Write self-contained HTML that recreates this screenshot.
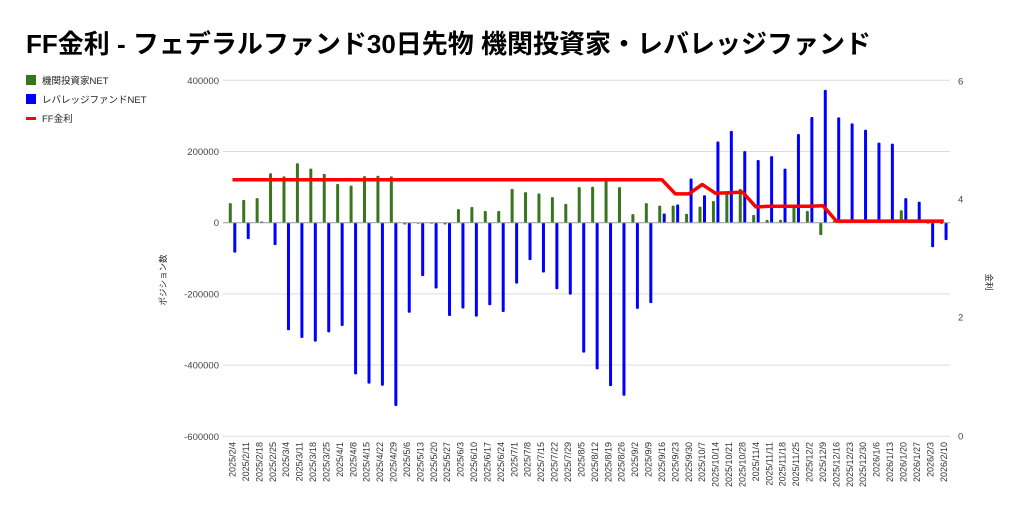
<!DOCTYPE html>
<html><head><meta charset="utf-8"><style>
body{margin:0;background:#fff;}
svg{display:block;font-family:"Liberation Sans","Noto Sans CJK JP",sans-serif;}
</style></head><body>
<svg id="c" width="1024" height="516" xmlns="http://www.w3.org/2000/svg">
<rect width="1024" height="516" fill="#fff"/>
<text x="26" y="53" font-size="26" font-weight="bold" fill="#000">FF金利 - フェデラルファンド30日先物 機関投資家・レバレッジファンド</text>
<rect x="26" y="75" width="10" height="10" fill="#38761d"/>
<text x="42" y="84" font-size="9.5" fill="#222">機関投資家NET</text>
<rect x="26" y="94" width="10" height="10" fill="#0000ff"/>
<text x="42" y="103" font-size="9.5" fill="#222">レバレッジファンドNET</text>
<rect x="26" y="117" width="10" height="3" fill="#ff0000"/>
<text x="42" y="122" font-size="9.5" fill="#222">FF金利</text>
<g id="grid" stroke="#dcdcdc" stroke-width="1"></g>
<g id="lab" font-size="9.5" fill="#444"></g>
<text transform="translate(166,280) rotate(-90)" font-size="8.5" fill="#222" text-anchor="middle">ポジション数</text>
<text transform="translate(986,282) rotate(90)" font-size="8.5" fill="#222" text-anchor="middle">金利</text>
<g id="bars"></g>
<line x1="223" y1="222.7" x2="950" y2="222.7" stroke="#999" stroke-width="1"/>
<polyline id="red" fill="none" stroke="#ff0000" stroke-width="3.5" stroke-linejoin="round"/>
<g id="xl" font-size="9" fill="#333"></g>
</svg>
<script>
var ns="http://www.w3.org/2000/svg";
function el(p,t,a,txt){var e=document.createElementNS(ns,t);for(var k in a)e.setAttribute(k,a[k]);if(txt!=null)e.textContent=txt;document.getElementById(p).appendChild(e);return e;}
var y0=222.7,k=71.2/200000;
var lv=[400000,200000,0,-200000,-400000,-600000];
lv.forEach(function(v){var y=y0-v*k;if(v!==0)el("grid","line",{x1:223,x2:950,y1:y,y2:y});el("lab","text",{x:219,y:y+3.5,"text-anchor":"end"},String(v));});
[[6,81],[4,199],[2,317],[0,436]].forEach(function(r){el("lab","text",{x:958,y:r[1]+3.5},String(r[0]));});
var g=[55,64,69,139,130,167,152,137,109,104,131,132,130,-5,-2,-1,-5,38,44,33,33,95,86,82,72,53,100,101,117,100,24,55,48,48,25,45,61,83,95,22,8,8,47,33,-35,5,4,4,3,3,35,2,-3,-4];
var b=[-84,-46,3,-63,-302,-324,-334,-308,-290,-426,-452,-458,-515,-253,-150,-185,-262,-241,-264,-232,-251,-171,-105,-140,-187,-202,-365,-412,-459,-486,-242,-226,26,51,124,77,228,258,201,176,187,152,249,297,373,296,279,261,225,222,69,59,-69,-49];
var r=[];for(var i=0;i<54;i++)r.push(i<=32?4.33:0);
var rr={33:4.09,34:4.09,35:4.25,36:4.10,37:4.11,38:4.12,39:3.87,40:3.88,41:3.88,42:3.88,43:3.88,44:3.89};
for(var i=45;i<54;i++)rr[i]=3.63;
for(var i in rr)r[i]=rr[i];
function bar(x,v,c){var y=y0-v*1000*k;var t=Math.min(y,y0),h=Math.max(Math.abs(y-y0),1);el("bars","rect",{x:x-1.5,y:t,width:3,height:h,fill:c,rx:1});}
var pts=[];
var d=new Date(2025,1,4);
for(var i=0;i<54;i++){
 var cx=232.5+i*13.42;
 bar(cx-2.2,g[i],"#38761d");bar(cx+2.3,b[i],"#0000ff");
 pts.push(cx.toFixed(1)+","+(436-r[i]*59.2).toFixed(1));
 var s=d.getFullYear()+"/"+(d.getMonth()+1)+"/"+d.getDate();
 el("xl","text",{transform:"translate("+(cx+3)+",442) rotate(-90)","text-anchor":"end"},s);
 d.setDate(d.getDate()+7);
}
document.getElementById("red").setAttribute("points",pts.join(" "));
</script>
</body></html>
